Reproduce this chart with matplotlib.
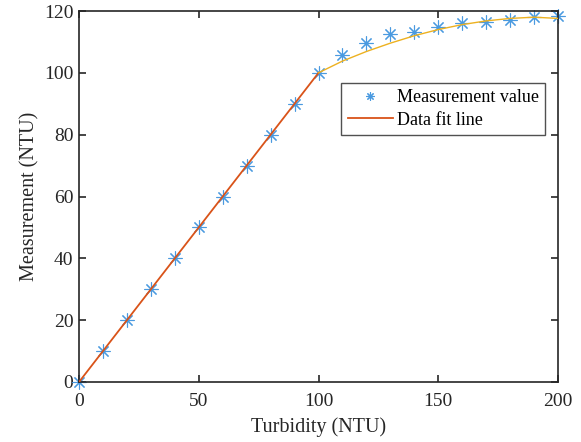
import numpy as np
import matplotlib
matplotlib.use("Agg")
from matplotlib import pyplot as plt

plt.rcParams['font.family'] = ['Liberation Serif', 'DejaVu Serif']

# measured points
turb = np.array([0, 10, 20, 30, 40, 50, 60, 70, 80, 90, 100,
                 110, 120, 130, 140, 150, 160, 170, 180, 190, 200])
meas = np.array([0, 10, 20, 30, 40, 50, 60, 70, 80, 90, 100,
                 105.8, 109.8, 112.4, 113.3, 114.7, 116.0, 116.5, 117.1, 117.9, 118.4])

# fit line
fit_x1 = np.array([0, 100])
fit_y1 = np.array([0, 100])
fit_x2 = np.array([100, 110, 120, 130, 140, 150, 160, 170, 180, 190, 200])
fit_y2 = np.array([100, 103.8, 106.9, 109.6, 112.0, 114.0, 115.6, 116.8, 117.6, 118.0, 117.6])

blue = '#4a9ae0'
red = '#D95319'
yellow = '#EDB120'
dark = '#262626'

fig = plt.figure(figsize=(5.81, 4.42), dpi=100)
ax = fig.add_axes([79/581, 1-382/442, 479/581, 371/442])

ax.plot(turb, meas, linestyle='none', marker=(8, 2, 0), markersize=10,
        markeredgewidth=0.8, color=blue, clip_on=False, zorder=2,
        label='Measurement value')
ax.plot(fit_x1, fit_y1, color=red, lw=1.3, zorder=3, label='Data fit line')
ax.plot(fit_x2, fit_y2, color=yellow, lw=1.0, zorder=3)

ax.set_xlim(0, 200)
ax.set_ylim(0, 120)
ax.set_xticks([0, 50, 100, 150, 200])
ax.set_yticks([0, 20, 40, 60, 80, 100, 120])
ax.tick_params(direction='in', top=True, right=True, length=5, width=1.2,
               labelsize=14, colors=dark, pad=4)
ax.tick_params(axis='x', pad=8)
for s in ax.spines.values():
    s.set_linewidth(1.2)
    s.set_color(dark)

ax.set_xlabel('Turbidity (NTU)', fontsize=14.5, color=dark, labelpad=5)
ax.set_ylabel('Measurement (NTU)', fontsize=14.5, color=dark, labelpad=3)

leg = ax.legend(loc='upper left', bbox_to_anchor=(0.548, 0.806), fontsize=13,
                frameon=True, fancybox=False, edgecolor=dark, markerscale=0.6,
                borderpad=0.35, handlelength=2.5, handletextpad=0.2,
                labelspacing=0.3, borderaxespad=0)
leg.get_frame().set_linewidth(1.0)

fig.savefig('out.png', dpi=100)
